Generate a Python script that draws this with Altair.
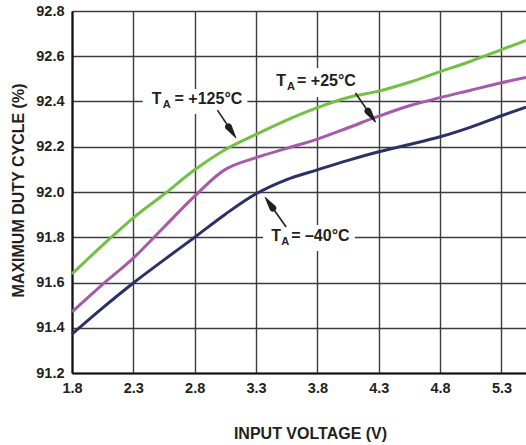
import math
import altair as alt
import pandas as pd

# Maximum duty cycle vs. input voltage at three ambient temperatures
volts = [1.8, 2.05, 2.3, 2.55, 2.8, 3.05, 3.3, 3.55, 3.8, 4.05, 4.3, 4.55, 4.8, 5.05, 5.3, 5.5]
duty_125 = [91.638, 91.765, 91.886, 91.990, 92.098, 92.188, 92.255, 92.318, 92.373, 92.418,
            92.446, 92.485, 92.532, 92.578, 92.629, 92.670]
duty_25 = [91.470, 91.592, 91.708, 91.845, 91.982, 92.100, 92.152, 92.193, 92.234, 92.284,
           92.335, 92.381, 92.417, 92.450, 92.483, 92.506]
duty_m40 = [91.372, 91.488, 91.598, 91.700, 91.800, 91.902, 91.992, 92.055, 92.098, 92.140,
            92.178, 92.210, 92.244, 92.287, 92.337, 92.375]

series = ["+125", "+25", "-40"]
colors = ["#72c044", "#a65aa9", "#2d3068"]

x_ticks = [1.8, 2.3, 2.8, 3.3, 3.8, 4.3, 4.8, 5.3]
y_ticks = [91.2, 91.4, 91.6, 91.8, 92.0, 92.2, 92.4, 92.6, 92.8]
x_dom = [1.8, 5.5]
y_dom = [91.2, 92.8]

W, H = 454, 362
FONT = "Liberation Sans"
INK = "#231f20"

rows = []
for name, vals in zip(series, [duty_125, duty_25, duty_m40]):
    for v, d in zip(volts, vals):
        rows.append({"v": v, "d": d, "t": name})
df = pd.DataFrame(rows)

xs = alt.Scale(domain=x_dom, nice=False, zero=False)
ys = alt.Scale(domain=y_dom, nice=False, zero=False)

x_axis = alt.Axis(values=x_ticks, format=".1f", title="INPUT VOLTAGE (V)",
                  titleX=238, titleY=60, titleBaseline="middle", titleAlign="center")
y_axis = alt.Axis(values=y_ticks, format=".1f", title="MAXIMUM DUTY CYCLE (%)",
                  titleX=-54, titleY=179, titleAngle=270, titleBaseline="middle",
                  titleAlign="center")

lines = alt.Chart(df).mark_line(strokeWidth=3, interpolate="catmull-rom").encode(
    x=alt.X("v:Q", scale=xs, axis=x_axis),
    y=alt.Y("d:Q", scale=ys, axis=y_axis),
    color=alt.Color("t:N", scale=alt.Scale(domain=series, range=colors), legend=None),
)

# White boxes behind the temperature labels
boxes = pd.DataFrame({
    "x1": [2.376, 3.407, 3.358], "x2": [3.229, 4.154, 4.105],
    "y1": [92.345, 92.420, 91.739], "y2": [92.455, 92.548, 91.854],
})
box_layer = alt.Chart(boxes).mark_rect(color="white").encode(
    x="x1:Q", x2="x2", y="y1:Q", y2="y2",
)

# Label text: "T" with subscript "A", then the temperature
big_txt = pd.DataFrame({
    "x": [2.449, 2.636, 3.464, 3.634, 3.423, 3.586],
    "y": [92.389, 92.389, 92.4685, 92.4685, 91.783, 91.783],
    "s": ["T", "= +125°C", "T", "= +25°C", "T", "= –40°C"],
})
sub_txt = pd.DataFrame({
    "x": [2.539, 3.553, 3.505],
    "y": [92.371, 92.4508, 91.766],
    "s": ["A", "A", "A"],
})
big_layer = alt.Chart(big_txt).mark_text(
    align="left", baseline="alphabetic", font=FONT, fontSize=16, fontWeight="bold", color=INK
).encode(x="x:Q", y="y:Q", text="s:N")
sub_layer = alt.Chart(sub_txt).mark_text(
    align="left", baseline="alphabetic", font=FONT, fontSize=11, fontWeight="bold", color=INK
).encode(x="x:Q", y="y:Q", text="s:N")

# Leader arrows: tail -> tip; heads are tapered trails (wide at base, zero at tip)
arrows = [
    ((2.985, 92.362), (3.135, 92.240)),
    ((4.110, 92.4376), (4.273, 92.310)),
    ((3.545, 91.845), (3.375, 91.976)),
]
HEAD_LEN, HEAD_W = 13.0, 7.0
kx = W / (x_dom[1] - x_dom[0])
ky = H / (y_dom[1] - y_dom[0])
seg_rows, head_rows = [], []
for i, ((x0, y0), (x1, y1)) in enumerate(arrows):
    dxp = (x1 - x0) * kx
    dyp = (y1 - y0) * ky
    n = math.hypot(dxp, dyp)
    bx = x1 - HEAD_LEN * dxp / n / kx
    by = y1 - HEAD_LEN * dyp / n / ky
    seg_rows.append({"a": i, "x": x0, "y": y0, "o": 0})
    seg_rows.append({"a": i, "x": bx, "y": by, "o": 1})
    head_rows.append({"a": i, "x": bx, "y": by, "w": HEAD_W, "o": 0})
    head_rows.append({"a": i, "x": x1, "y": y1, "w": 0.0, "o": 1})
seg_layer = alt.Chart(pd.DataFrame(seg_rows)).mark_line(color=INK, strokeWidth=1.6).encode(
    x="x:Q", y="y:Q", detail="a:N", order="o:Q",
)
head_layer = alt.Chart(pd.DataFrame(head_rows)).mark_trail(color=INK).encode(
    x="x:Q", y="y:Q", detail="a:N", order="o:Q",
    size=alt.Size("w:Q", scale=None, legend=None),
)

chart = alt.layer(box_layer, lines, seg_layer, head_layer, big_layer, sub_layer).properties(
    width=W, height=H,
    autosize=alt.AutoSizeParams(type="none"),
    padding={"left": 72, "top": 11, "right": 0, "bottom": 72},
    background="white",
).configure_view(stroke=None).configure_axis(
    grid=True, gridColor="#3c3c3c", gridWidth=1.4,
    domain=True, domainColor="#111111", domainWidth=2.2,
    ticks=False, labelPadding=8,
    labelFont=FONT, labelFontSize=14.5, labelFontWeight="bold", labelColor=INK,
    titleFont=FONT, titleFontSize=16, titleFontWeight="bold", titleColor=INK,
    labelFlush=False, labelOverlap=False,
)

chart.save("out.html", embed_options={"renderer": "svg", "actions": False})
